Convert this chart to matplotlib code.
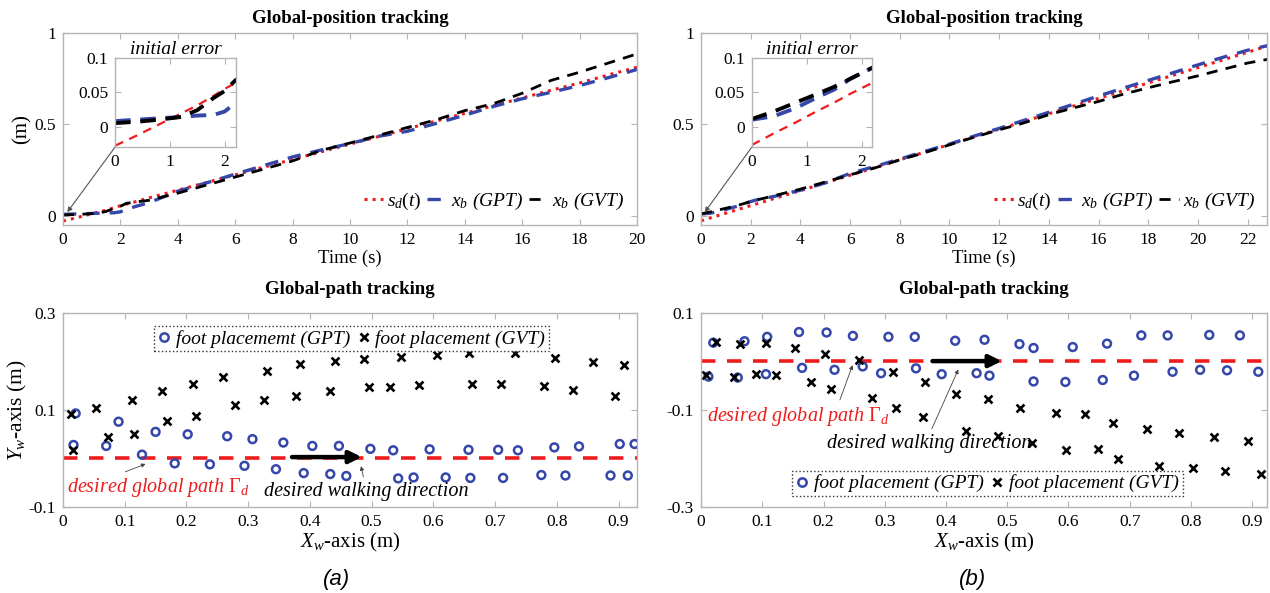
import matplotlib
matplotlib.use('Agg')
import matplotlib.pyplot as plt
from matplotlib.lines import Line2D

plt.rcParams['font.family'] = 'Liberation Serif'
plt.rcParams['mathtext.fontset'] = 'custom'
plt.rcParams['mathtext.rm'] = 'Liberation Serif'
plt.rcParams['mathtext.it'] = 'Liberation Serif:italic'
plt.rcParams['font.size'] = 12

# --- global-position tracking data (a) ---
t_a = [0, 0.4, 0.8, 1.2, 1.5, 1.8, 2.0, 2.2, 2.5, 3, 4, 5, 6, 7, 8, 9, 10,
       11, 12, 13, 14, 15, 16, 17, 18, 19, 20]
sd_a = [-0.028, -0.013, 0.003, 0.019, 0.031, 0.045, 0.055, 0.064, 0.076, 0.098,
        0.14, 0.182, 0.224, 0.266, 0.308, 0.35, 0.392, 0.434, 0.476, 0.518,
        0.56, 0.602, 0.644, 0.686, 0.726, 0.77, 0.812]
gpt_a = [0.008, 0.01, 0.012, 0.014, 0.016, 0.017, 0.022, 0.035, 0.05, 0.072,
         0.135, 0.18, 0.228, 0.275, 0.322, 0.36, 0.395, 0.435, 0.462, 0.505,
         0.55, 0.598, 0.64, 0.675, 0.712, 0.755, 0.8]
gvt_a = [0.005, 0.007, 0.01, 0.014, 0.024, 0.042, 0.052, 0.068, 0.075, 0.085,
         0.124, 0.168, 0.212, 0.256, 0.3, 0.358, 0.398, 0.44, 0.483, 0.525,
         0.575, 0.613, 0.67, 0.74, 0.785, 0.835, 0.885]

# --- global-position tracking data (b) ---
t_b = [0, 0.4, 0.8, 1.2, 1.5, 1.8, 2.0, 2.2, 2.5, 3, 4, 5, 6, 7, 8, 9, 10,
       11, 12, 13, 14, 15, 16, 17, 18, 19, 20, 21, 22, 22.8]
sd_b = [-0.027, -0.01, 0.006, 0.023, 0.035, 0.048, 0.056, 0.064, 0.076, 0.097,
        0.138, 0.18, 0.222, 0.264, 0.306, 0.348, 0.39, 0.432, 0.474, 0.516,
        0.558, 0.6, 0.642, 0.684, 0.726, 0.768, 0.81, 0.852, 0.894, 0.928]
gpt_b = [0.01, 0.015, 0.027, 0.043, 0.054, 0.07, 0.078, 0.086, 0.094, 0.108,
         0.14, 0.18, 0.232, 0.27, 0.31, 0.352, 0.392, 0.436, 0.478, 0.522,
         0.566, 0.61, 0.655, 0.698, 0.74, 0.782, 0.825, 0.866, 0.905, 0.93]
gvt_b = [0.011, 0.022, 0.035, 0.048, 0.058, 0.07, 0.078, 0.086, 0.095, 0.112,
         0.146, 0.185, 0.224, 0.262, 0.306, 0.345, 0.388, 0.43, 0.47, 0.508,
         0.553, 0.59, 0.625, 0.665, 0.7, 0.733, 0.765, 0.8, 0.835, 0.855]

# --- foot placements (a) ---
gpt_xa = [0.017, 0.0205, 0.070, 0.090, 0.128, 0.150, 0.181, 0.202, 0.238, 0.266,
          0.294, 0.307, 0.345, 0.357, 0.390, 0.404, 0.433, 0.447, 0.459, 0.498,
          0.535, 0.543, 0.568, 0.594, 0.620, 0.657, 0.660, 0.705, 0.713, 0.737,
          0.775, 0.796, 0.814, 0.836, 0.887, 0.902, 0.915, 0.926]
gpt_ya = [0.028, 0.093, 0.026, 0.076, 0.008, 0.055, -0.010, 0.050, -0.012, 0.046,
          -0.015, 0.040, -0.022, 0.033, -0.030, 0.026, -0.032, 0.026, -0.036, 0.020,
          0.017, -0.041, -0.039, 0.019, -0.039, 0.018, -0.040, 0.018, -0.040, 0.017,
          -0.034, 0.023, -0.035, 0.025, -0.035, 0.030, -0.035, 0.030]
gvt_xa = [0.013, 0.0165, 0.054, 0.073, 0.112, 0.115, 0.161, 0.169, 0.210, 0.216,
          0.260, 0.279, 0.330, 0.325, 0.384, 0.378, 0.441, 0.432, 0.488, 0.496,
          0.548, 0.529, 0.577, 0.606, 0.657, 0.662, 0.710, 0.732, 0.780, 0.797,
          0.827, 0.859, 0.895, 0.909]
gvt_ya = [0.092, 0.017, 0.105, 0.044, 0.121, 0.051, 0.140, 0.077, 0.153, 0.087,
          0.168, 0.110, 0.181, 0.120, 0.194, 0.130, 0.202, 0.139, 0.206, 0.147,
          0.210, 0.148, 0.152, 0.214, 0.217, 0.153, 0.154, 0.217, 0.150, 0.208,
          0.141, 0.200, 0.129, 0.192]

# --- foot placements (b) ---
gpt_xb = [0.012, 0.020, 0.060, 0.071, 0.106, 0.108, 0.160, 0.165, 0.205, 0.218,
          0.248, 0.264, 0.294, 0.306, 0.349, 0.351, 0.393, 0.415, 0.450, 0.463,
          0.471, 0.520, 0.543, 0.543, 0.595, 0.607, 0.656, 0.663, 0.707, 0.719,
          0.762, 0.770, 0.815, 0.830, 0.859, 0.880, 0.910]
gpt_yb = [-0.031, 0.039, -0.033, 0.042, -0.026, 0.051, 0.061, -0.013, 0.060, -0.017,
          0.053, -0.010, -0.024, 0.051, 0.051, -0.014, -0.026, 0.043, -0.024, 0.045,
          -0.029, 0.036, 0.028, -0.041, -0.042, 0.030, -0.038, 0.037, -0.029, 0.054,
          0.054, -0.021, -0.017, 0.055, -0.018, 0.054, -0.021]
gvt_xb = [0.008, 0.025, 0.054, 0.064, 0.090, 0.106, 0.122, 0.154, 0.179, 0.203,
          0.212, 0.258, 0.280, 0.313, 0.319, 0.365, 0.363, 0.417, 0.432, 0.468,
          0.485, 0.521, 0.541, 0.580, 0.596, 0.627, 0.648, 0.673, 0.681, 0.728,
          0.748, 0.780, 0.803, 0.837, 0.855, 0.894, 0.915]
gvt_yb = [-0.028, 0.040, -0.031, 0.037, -0.025, 0.038, -0.028, 0.028, -0.042, 0.015,
          -0.056, 0.004, -0.076, -0.022, -0.095, -0.043, -0.114, -0.067, -0.143, -0.078,
          -0.153, -0.095, -0.167, -0.106, -0.182, -0.109, -0.181, -0.126, -0.201, -0.140,
          -0.215, -0.148, -0.219, -0.156, -0.225, -0.163, -0.231]

RED = '#ee1c1c'
BLUE = '#3547a8'
SPINE = '#b5b5b5'
LEG_FONT = {'style': 'italic', 'size': 14, 'family': 'Liberation Serif'}


def style_axes(ax):
    for s in ax.spines.values():
        s.set_color(SPINE)
        s.set_linewidth(1.0)
    ax.tick_params(direction='in', top=True, right=True, color=SPINE,
                   labelcolor='black', labelsize=12.5, length=4, pad=5)


fig = plt.figure(figsize=(12.7, 5.93), dpi=100)

# ---------------- top panels ----------------
top_specs = [
    (0.0496, 0.452, t_a, sd_a, gpt_a, gvt_a, 20, list(range(0, 21, 2)), 0.0906),
    (0.552, 0.446, t_b, sd_b, gpt_b, gvt_b, 22.8, list(range(0, 23, 2)), 0.592),
]
for i, (left, width, t, sd, gpt, gvt, xmax, xt, inset_left) in enumerate(top_specs):
    ax = fig.add_axes([left, 0.6206, width, 0.324])
    ax.plot(t, sd, ':', color=RED, lw=2.2)
    ax.plot(t, gpt, '--', color=BLUE, lw=2.4, dashes=(4, 3))
    ax.plot(t, gvt, '--', color='black', lw=2.0, dashes=(4, 3))
    ax.set_xlim(0, xmax)
    ax.set_ylim(-0.05, 1)
    ax.set_xticks(xt)
    ax.set_yticks([0, 0.5, 1])
    ax.set_yticklabels(['0', '0.5', '1'])
    style_axes(ax)
    ax.set_title('Global-position tracking', fontweight='bold', fontsize=13.5, pad=7)
    ax.set_xlabel('Time (s)', fontsize=13.5, labelpad=1)
    if i == 0:
        ax.set_ylabel('(m)', fontsize=15, labelpad=2)
    handles = [Line2D([], [], ls=':', color=RED, lw=2.2),
               Line2D([], [], ls='--', color=BLUE, lw=2.4, dashes=(4, 3)),
               Line2D([], [], ls='--', color='black', lw=2.0, dashes=(4, 3))]
    ax.legend(handles, [r'$s_d(t)$', r'$x_b$ (GPT)', r'$x_b$ (GVT)'],
              loc='lower right', ncol=3, frameon=False, handlelength=1.0,
              handletextpad=0.2, columnspacing=0.3, borderaxespad=0.25,
              prop=LEG_FONT)

    ins = fig.add_axes([inset_left, 0.752, 0.095, 0.150])
    ins.plot(t, sd, '--', color=RED, lw=1.6, dashes=(4, 3))
    ins.plot(t, gpt, '--', color=BLUE, lw=2.8, dashes=(4, 2.5))
    ins.plot(t, gvt, '--', color='black', lw=2.8, dashes=(4, 2.5))
    ins.set_xlim(0, 2.2)
    ins.set_ylim(-0.03, 0.1)
    ins.set_xticks([0, 1, 2])
    ins.set_yticks([0, 0.05, 0.1])
    ins.set_yticklabels(['0', '0.05', '0.1'])
    style_axes(ins)
    ins.set_title('initial error', style='italic', fontsize=14, pad=3)
    ax.annotate('', xy=(0.15, 0.02), xycoords='data',
                xytext=(0, 0), textcoords=ins.transAxes,
                arrowprops=dict(arrowstyle='-|>', color='#555555', lw=0.8,
                                mutation_scale=7, shrinkA=0, shrinkB=0))

# ---------------- bottom panels ----------------
bot_specs = [
    (0.0496, 0.452, gpt_xa, gpt_ya, gvt_xa, gvt_ya, 0.93, (-0.1, 0.3),
     [-0.1, 0.1, 0.3], 'foot placememt (GPT)'),
    (0.552, 0.446, gpt_xb, gpt_yb, gvt_xb, gvt_yb, 0.925, (-0.3, 0.1),
     [-0.3, -0.1, 0.1], 'foot placement (GPT)'),
]
for i, (left, width, gx, gy, vx, vy, xmax, ylim, yt, gpt_label) in enumerate(bot_specs):
    ax = fig.add_axes([left, 0.145, width, 0.327])
    ax.axhline(0.002, color=RED, lw=2.6, ls='--', dashes=(4, 3.2), zorder=1)
    ax.scatter(gx, gy, s=32, facecolors='none', edgecolors=BLUE, linewidths=1.8,
               zorder=3)
    ax.scatter(vx, vy, s=32, marker='x', color='black', linewidths=1.9, zorder=3)
    ax.set_xlim(0, xmax)
    ax.set_ylim(*ylim)
    ax.set_xticks([0, 0.1, 0.2, 0.3, 0.4, 0.5, 0.6, 0.7, 0.8, 0.9])
    ax.set_xticklabels(['0', '0.1', '0.2', '0.3', '0.4', '0.5', '0.6', '0.7', '0.8', '0.9'])
    ax.set_yticks(yt)
    ax.set_yticklabels([f'{v:g}' for v in yt])
    style_axes(ax)
    ax.set_title('Global-path tracking', fontweight='bold', fontsize=13.5, pad=14)
    ax.set_xlabel(r'$X_w$-axis (m)', fontsize=15, labelpad=1)
    if i == 0:
        ax.set_ylabel(r'$Y_w$-axis (m)', fontsize=15.5, labelpad=0)

    handles = [Line2D([], [], ls='none', marker='o', mfc='none', mec=BLUE, mew=1.8, ms=6),
               Line2D([], [], ls='none', marker='x', color='black', mew=1.9, ms=6)]
    if i == 0:
        leg = ax.legend(handles, [gpt_label, 'foot placement (GVT)'], ncol=2,
                        loc='upper center', bbox_to_anchor=(0.503, 0.985),
                        handlelength=0.6, handletextpad=0.3, columnspacing=0.4,
                        borderpad=0.2, fancybox=False, framealpha=1, prop=LEG_FONT)
    else:
        leg = ax.legend(handles, [gpt_label, 'foot placement (GVT)'], ncol=2,
                        loc='lower center', bbox_to_anchor=(0.506, 0.005),
                        handlelength=0.6, handletextpad=0.3, columnspacing=0.4,
                        borderpad=0.2, fancybox=False, framealpha=1, prop=LEG_FONT)
    leg.get_frame().set_edgecolor('#333333')
    leg.get_frame().set_linestyle(':')
    leg.get_frame().set_linewidth(1.0)

    if i == 0:
        ax.annotate('', xy=(0.484, 0.003), xytext=(0.371, 0.003),
                    arrowprops=dict(arrowstyle='-|>', color='black', lw=3.2,
                                    mutation_scale=18, shrinkA=0, shrinkB=0), zorder=4)
        ax.annotate(r'desired global path $\Gamma_d$', xy=(0.138, -0.009),
                    xytext=(0.007, -0.059), color=RED, fontsize=14.5, style='italic',
                    va='center',
                    arrowprops=dict(arrowstyle='-|>', color='#444444', lw=0.6,
                                    mutation_scale=6, relpos=(0.265, 1.0)))
        ax.annotate('desired walking direction', xy=(0.482, -0.010),
                    xytext=(0.326, -0.069), color='black', fontsize=14.5, style='italic',
                    va='center',
                    arrowprops=dict(arrowstyle='-|>', color='#444444', lw=0.6,
                                    mutation_scale=6, relpos=(0.49, 1.0)))
    else:
        ax.annotate('', xy=(0.491, 0.001), xytext=(0.378, 0.001),
                    arrowprops=dict(arrowstyle='-|>', color='black', lw=3.2,
                                    mutation_scale=18, shrinkA=0, shrinkB=0), zorder=4)
        ax.annotate(r'desired global path $\Gamma_d$', xy=(0.249, -0.002),
                    xytext=(0.009, -0.114), color=RED, fontsize=14.5, style='italic',
                    va='center',
                    arrowprops=dict(arrowstyle='-|>', color='#444444', lw=0.6,
                                    mutation_scale=6, relpos=(0.72, 1.0)))
        ax.annotate('desired walking direction', xy=(0.422, -0.011),
                    xytext=(0.206, -0.169), color='black', fontsize=14.5, style='italic',
                    va='center',
                    arrowprops=dict(arrowstyle='-|>', color='#444444', lw=0.6,
                                    mutation_scale=6, relpos=(0.5, 1.0)))

fig.text(0.265, 0.022, '(a)', family='Liberation Sans', style='italic', fontsize=16,
         ha='center', va='center')
fig.text(0.766, 0.022, '(b)', family='Liberation Sans', style='italic', fontsize=16,
         ha='center', va='center')

fig.savefig('out.png', dpi=100)
